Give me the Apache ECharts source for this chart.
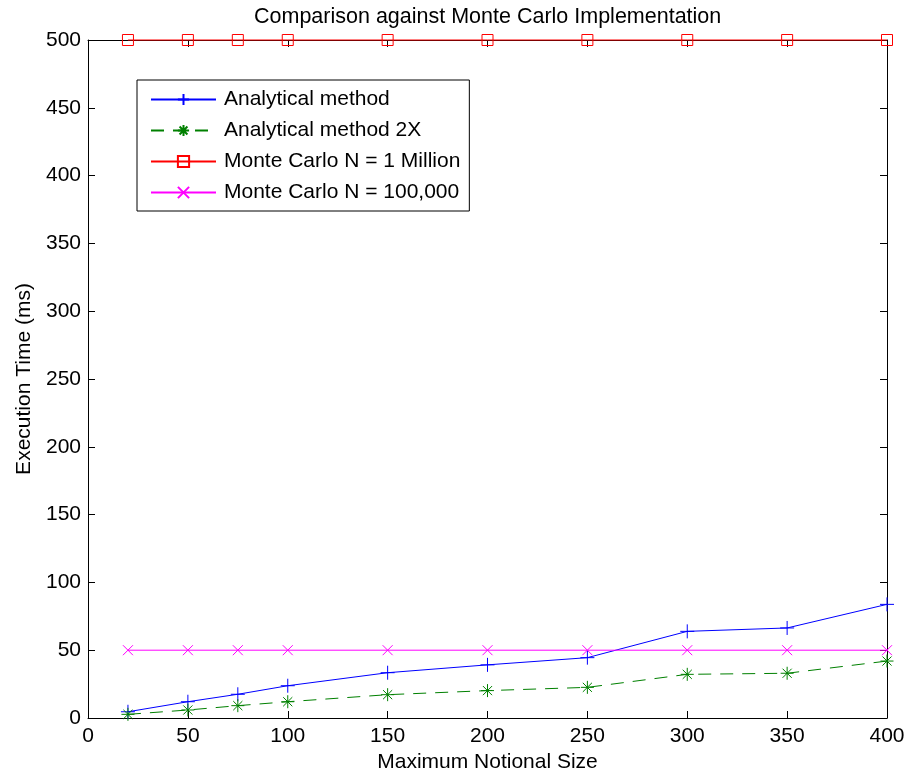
<!DOCTYPE html>
<html><head><meta charset="utf-8">
<script src="https://cdn.jsdelivr.net/npm/echarts@6/dist/echarts.min.js"></script>
<style>html,body{margin:0;padding:0;background:#fff}#c{width:906px;height:776px}</style>
</head><body><div id="c"></div>
<script>
var sizes = [20, 50, 75, 100, 150, 200, 250, 300, 350, 400];
var analytical = [4.6, 12.0, 17.5, 23.8, 33.4, 39.2, 44.5, 63.9, 66.4, 83.8];
var analytical2x = [2.7, 5.9, 9.1, 12.0, 17.2, 20.2, 22.6, 32.2, 33.0, 42.0];
var mc1m = [500, 500, 500, 500, 500, 500, 500, 500, 500, 500];
var mc100k = [50, 50, 50, 50, 50, 50, 50, 50, 50, 50];
var names = ['Analytical method', 'Analytical method 2X', 'Monte Carlo N = 1 Million', 'Monte Carlo N = 100,000'];

function pairs(ys){ return sizes.map(function(x,i){ return [x, ys[i]]; }); }
var FONT = 'Liberation Sans, Arial, Helvetica, sans-serif';
var FS = 21;
var chart = echarts.init(document.getElementById('c'));
var axCommon = {
  axisLine: {show: true, onZero: false, lineStyle: {color: '#000', width: 1}},
  axisTick: {show: true, inside: true, length: 7, lineStyle: {color: '#000'}},
  splitLine: {show: false}
};
function ax(extra){ return Object.assign({}, JSON.parse(JSON.stringify(axCommon)), extra); }
chart.setOption({
  animation: false,
  backgroundColor: '#fff',
  title: {text: 'Comparison against Monte Carlo Implementation', left: 249, top: 2,
    padding: [4, 5, 4, 5],
    textStyle: {fontFamily: FONT, fontSize: 21.5, fontWeight: 'normal', color: '#000'}},
  grid: {left: 88, right: 19, top: 40, bottom: 58, outerBoundsMode: 'none', containLabel: false},
  legend: {
    orient: 'vertical', left: 137, top: 80, data: names,
    backgroundColor: '#fff', borderColor: '#000', borderWidth: 1,
    padding: [9, 9, 8, 13], itemWidth: 65, itemHeight: 14, itemGap: 10,
    textStyle: {fontFamily: FONT, fontSize: FS, color: '#000', padding: [0, 0, 0, 3]}
  },
  xAxis: [
    ax({type: 'value', min: 0, max: 400, interval: 50, position: 'bottom',
      name: 'Maximum Notional Size', nameLocation: 'middle', nameGap: 33,
      nameTextStyle: {fontFamily: FONT, fontSize: FS, color: '#000'},
      axisLabel: {fontFamily: FONT, fontSize: FS, color: '#000', margin: 8}}),
    ax({type: 'value', min: 0, max: 400, interval: 50, position: 'top', axisLabel: {show: false}})
  ],
  yAxis: [
    ax({type: 'value', min: 0, max: 500, interval: 50, position: 'left',
      name: 'Execution Time (ms)', nameLocation: 'middle', nameGap: 53,
      nameTextStyle: {fontFamily: FONT, fontSize: FS, color: '#000'},
      axisLabel: {fontFamily: FONT, fontSize: FS, color: '#000', margin: 7}}),
    ax({type: 'value', min: 0, max: 500, interval: 50, position: 'right', axisLabel: {show: false}})
  ],
  series: [
    {name: names[0], type: 'line', data: pairs(analytical), clip: false,
      symbol: 'path://M0,-1L0,1M-1,0L1,0', symbolSize: 14,
      lineStyle: {color: '#0000ff', width: 1},
      itemStyle: {color: 'none', borderColor: '#0000ff', borderWidth: 1}},
    {name: names[1], type: 'line', data: pairs(analytical2x), clip: false,
      symbol: 'path://M0,-1L0,1M-1,0L1,0M-0.7,-0.7L0.7,0.7M-0.7,0.7L0.7,-0.7', symbolSize: 13,
      lineStyle: {color: '#008000', width: 1, type: [13, 9]},
      itemStyle: {color: 'none', borderColor: '#008000', borderWidth: 1}},
    {name: names[2], type: 'line', data: pairs(mc1m), clip: false,
      symbol: 'rect', symbolSize: 11,
      lineStyle: {color: '#ff0000', width: 1},
      itemStyle: {color: 'none', borderColor: '#ff0000', borderWidth: 1}},
    {name: names[3], type: 'line', data: pairs(mc100k), clip: false,
      symbol: 'path://M-1,-1L1,1M-1,1L1,-1', symbolSize: 10,
      lineStyle: {color: '#ff00ff', width: 1},
      itemStyle: {color: 'none', borderColor: '#ff00ff', borderWidth: 1}}
  ]
});
</script></body></html>
